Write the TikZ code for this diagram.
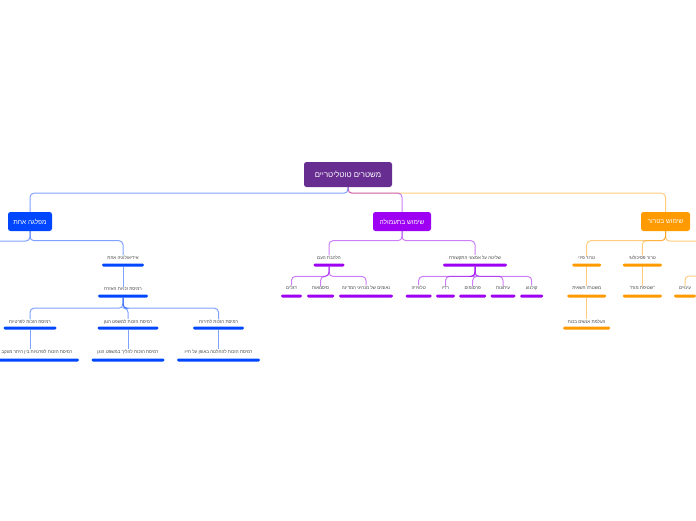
\documentclass[tikz,border=0pt]{standalone}
\usepackage{fontspec}
\newfontfamily\heb[Script=Hebrew]{Liberation Sans}
\TeXXeTstate=1
\newcommand{\hb}[1]{\beginR #1\endR}
\definecolor{rootc}{HTML}{672D91}
\definecolor{bluec}{HTML}{0047FF}
\definecolor{purc}{HTML}{9D00F2}
\definecolor{orc}{HTML}{FF9A00}
\definecolor{labc}{HTML}{444444}
\tikzset{
  x=1pt, y=-1pt,
  rootbox/.style={fill=rootc, rounded corners=2.5pt, text=white, minimum width=88pt, minimum height=25pt, inner sep=0pt, font=\heb\fontsize{7.8}{9}\selectfont},
  brbox/.style={rounded corners=2.5pt, text=white, minimum height=19pt, inner sep=0pt, font=\heb\fontsize{6.5}{7.5}\selectfont},
  lab/.style={text=labc, inner sep=0.6pt, font=\heb\fontsize{4.5}{5.5}\selectfont},
  bar/.style={rounded corners=1.3pt, minimum height=3pt, inner sep=0pt},
  bbar/.style={bar, fill=bluec},
  pbar/.style={bar, fill=purc},
  obar/.style={bar, fill=orc},
  conn/.style={line width=1pt, rounded corners=4pt},
  lb/.style={conn, draw=bluec, draw opacity=0.5},
  lp/.style={conn, draw=purc, draw opacity=0.5},
  lo/.style={conn, draw=orc, draw opacity=0.5},
}
\begin{document}
\begin{tikzpicture}
\useasboundingbox (0,0) rectangle (696,520);
\clip (0,0) rectangle (696,520);
\fill[white] (0,0) rectangle (696,520);

% root and main branches
\node[rootbox] (root) at (348,174.5) {\hb{משטרים טוטליטריים}};
\node[brbox, fill=bluec, minimum width=44pt] (blue) at (30,221.5) {\hb{מפלגה אחת}};
\node[brbox, fill=purc, minimum width=58pt] (purple) at (402,221.5) {\hb{שימוש בתעמולה}};
\node[brbox, fill=orc, minimum width=49pt] (orange) at (665.5,221.5) {\hb{שימוש בטרור}};

\draw[lo] (root.south) -- ++(0,6) -| (orange.north);
\draw[lp] (root.south) -- ++(0,6) -| (purple.north);
\draw[lb] (root.south) -- ++(0,6) -| (blue.north);

% ---- blue subtree
\node[lab] (ideo) at (123,258) {\hb{אידיאולוגיה אחת}};
\node[bbar, minimum width=42pt] (ideoB) at (123,265) {};
\node[lab] (rights) at (123,289) {\hb{רמיסת זכויות האזרח}};
\node[bbar, minimum width=50pt] (rightsB) at (123,296) {};

\node[lab] (c1) at (30,322) {\hb{רמיסת הזכות לפרטיות}};
\node[bbar, minimum width=53pt] (c1B) at (30,328) {};
\node[lab] (c2) at (128,322) {\hb{רמיסת הזכות למשפט הוגן}};
\node[bbar, minimum width=61pt] (c2B) at (128,328) {};
\node[lab] (c3) at (218.5,322) {\hb{רמיסת הזכות לחירות}};
\node[bbar, minimum width=51pt] (c3B) at (218.5,328) {};

\node[lab] (g1) at (30,352) {\hb{רמיסת הזכות לפרטיות בין היתר מעקב ונטרות}};
\node[bbar, minimum width=98pt] (g1B) at (30,360) {};
\node[lab] (g2) at (128,352) {\hb{רמיסת הזכות להליך במשפט הוגן}};
\node[bbar, minimum width=73pt] (g2B) at (128,360) {};
\node[lab] (g3) at (218.5,352) {\hb{רמיסת הזכות להחלטה באופן על חייו}};
\node[bbar, minimum width=83pt] (g3B) at (218.5,360) {};

\coordinate (blueOff) at (-20,241);
\draw[lb] (blue.south) |- (blueOff);
\draw[lb] (blue.south) -- ++(0,9.5) -| (ideo.north);
\draw[lb] (ideoB.south) -- (rights.north);
\foreach \c in {c1,c2,c3} \draw[lb] (rightsB.south) -- ++(0,10.5) -| (\c.north);
\draw[lb] (c1B.south) -- (g1.north);
\draw[lb] (c2B.south) -- (g2.north);
\draw[lb] (c3B.south) -- (g3.north);

% ---- purple subtree
\node[lab] (s1) at (329,258) {\hb{הלהבת העם}};
\node[pbar, minimum width=31pt] (s1B) at (329,265) {};
\node[lab] (s2) at (475,258) {\hb{שליטה על אמצעי התקשורת}};
\node[pbar, minimum width=64pt] (s2B) at (475,265) {};
\draw[lp] (purple.south) -- ++(0,9.5) -| (s1.north);
\draw[lp] (purple.south) -- ++(0,9.5) -| (s2.north);

\node[lab] (p1) at (291.5,288) {\hb{דגלים}};
\node[pbar, minimum width=21pt] (p1B) at (291.5,296) {};
\node[lab] (p2) at (320.6,288) {\hb{סיסמאות}};
\node[pbar, minimum width=27pt] (p2B) at (320.6,296) {};
\node[lab] (p3) at (366,288) {\hb{נאומים של מנהיגי המדינה}};
\node[pbar, minimum width=54pt] (p3B) at (366,296) {};
\foreach \c in {p1,p2,p3} \draw[lp] (s1B.south) -- ++(0,9.7) -| (\c.north);

\node[lab] (m1) at (418.7,288) {\hb{טלוויזיה}};
\node[pbar, minimum width=26pt] (m1B) at (418.7,296) {};
\node[lab] (m2) at (445.5,288) {\hb{רדיו}};
\node[pbar, minimum width=19pt] (m2B) at (445.5,296) {};
\node[lab] (m3) at (472.7,288) {\hb{פרסומים}};
\node[pbar, minimum width=27pt] (m3B) at (472.7,296) {};
\node[lab] (m4) at (503,288) {\hb{עיתונות}};
\node[pbar, minimum width=25pt] (m4B) at (503,296) {};
\node[lab] (m5) at (531.7,288) {\hb{קולנוע}};
\node[pbar, minimum width=23pt] (m5B) at (531.7,296) {};
\foreach \c in {m1,m2,m3,m4,m5} \draw[lp] (s2B.south) -- ++(0,9.7) -| (\c.north);

% ---- orange subtree
\node[lab] (t1) at (586.7,258) {\hb{טרור פיזי}};
\node[obar, minimum width=29pt] (t1B) at (586.7,265) {};
\node[lab] (t2) at (642.3,258) {\hb{טרור פסיכולוגי}};
\node[obar, minimum width=39pt] (t2B) at (642.3,265) {};
\coordinate (orOff) at (720,241);
\draw[lo] (orange.south) |- (orOff);
\draw[lo] (orange.south) -- ++(0,9.5) -| (t1.north);
\draw[lo] (orange.south) -- ++(0,9.5) -| (t2.north);

\node[lab] (sp) at (586.7,288) {\hb{משטרה חשאית}};
\node[obar, minimum width=39pt] (spB) at (586.7,296) {};
\draw[lo] (t1B.south) -- (sp.north);
\node[lab] (dis) at (586.7,322) {\hb{העלמת אנשים בכוח}};
\node[obar, minimum width=47pt] (disB) at (586.7,328) {};
\draw[lo] (spB.south) -- (dis.north);

\node[lab] (brain) at (642.3,288) {\hb{"שטיפת מוח"}};
\node[obar, minimum width=39pt] (brainB) at (642.3,296) {};
\draw[lo] (t2B.south) -- (brain.north);

\node[lab] (tor) at (685,288) {\hb{עינויים}};
\node[obar, minimum width=22pt] (torB) at (685,296) {};
\coordinate (orOff2) at (720,276);
\draw[lo] (orOff2) -| (tor.north);
\end{tikzpicture}
\end{document}
